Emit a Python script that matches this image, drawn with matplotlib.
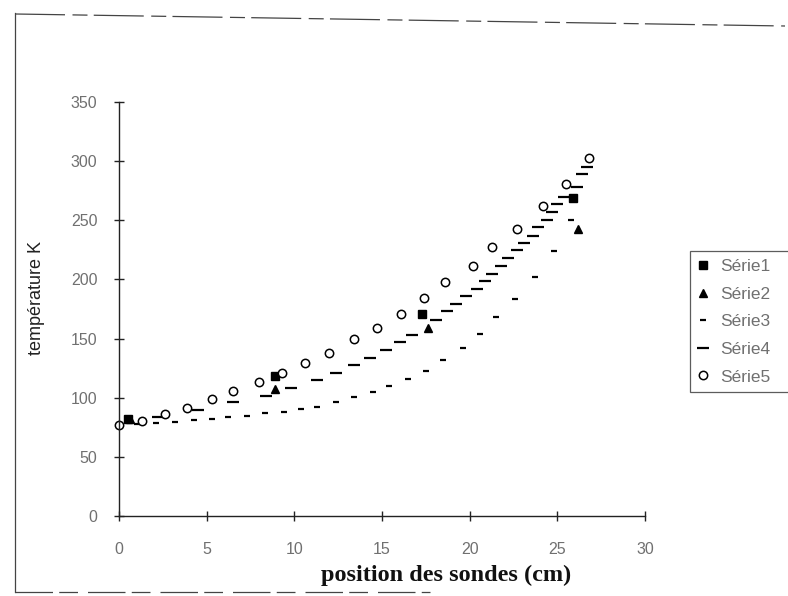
import matplotlib
matplotlib.use("Agg")
import matplotlib.pyplot as plt
from matplotlib.lines import Line2D

# Probe positions (cm) and temperatures (K) for each series
s1_x = [0.5, 8.9, 17.3, 25.9]
s1_y = [82, 118.6, 171, 269]

s2_x = [0.6, 8.9, 17.6, 26.2]
s2_y = [82, 107.6, 158.6, 243]

s3_x = [0.0, 1.05, 2.1, 3.2, 4.3, 5.3, 6.2, 7.3, 8.3, 9.4, 10.4, 11.3, 12.4,
        13.4, 14.5, 15.4, 16.5, 17.5, 18.5, 19.6, 20.6, 21.5, 22.6, 23.7,
        24.8, 25.8]
s3_y = [77, 77.5, 78.4, 79.6, 80.8, 82, 84, 84.3, 87, 88.3, 90.3, 92.3, 96,
        100.5, 105, 109.6, 115.8, 123, 131.7, 142, 153.5, 168, 183.7, 201.8,
        224, 250.6]

s4_x = [2.2, 4.5, 6.5, 8.4, 9.8, 11.3, 12.4, 13.4, 14.3, 15.2, 16.0, 16.7,
        18.1, 18.7, 19.2, 19.8, 20.4, 20.9, 21.3, 21.8, 22.2, 22.7, 23.1,
        23.6, 23.9, 24.4, 24.7, 25.0, 25.4, 26.1, 26.4, 26.7]
s4_y = [83.6, 89.4, 96, 101.6, 108, 115, 120.5, 127.6, 133.8, 140, 147, 153,
        166, 173, 179, 186, 192, 198.5, 205, 211, 218, 225, 230.4, 237, 244,
        250, 257, 264, 270, 278, 289, 295]

s5_x = [0.0, 1.3, 2.6, 3.9, 5.3, 6.5, 8.0, 9.3, 10.6, 12.0, 13.4, 14.7, 16.1,
        17.4, 18.6, 20.2, 21.3, 22.7, 24.2, 25.5, 26.8]
s5_y = [77, 80.7, 86, 91.7, 99, 106, 113, 120.5, 129, 138, 150, 159, 171,
        184, 198, 211, 227, 243, 262, 281, 303]

series_names = ["Série1", "Série2", "Série3", "Série4", "Série5"]
x_ticks = [0, 5, 10, 15, 20, 25, 30]
y_ticks = [0, 50, 100, 150, 200, 250, 300, 350]

W, H = 788, 596
fig = plt.figure(figsize=(W / 100, H / 100), dpi=100)
fig.patch.set_facecolor("white")

ax = fig.add_axes([119 / W, 1 - 516 / H, (645 - 119) / W, (516 - 102) / H])
ax.set_xlim(0, 30)
ax.set_ylim(0, 350)
for side in ("top", "right"):
    ax.spines[side].set_visible(False)
for side in ("left", "bottom"):
    ax.spines[side].set_color("#222222")
    ax.spines[side].set_linewidth(1.0)

tick_font = dict(family="Liberation Sans", size=11.5, color="#707070")
ax.set_xticks(x_ticks)
ax.set_yticks(y_ticks)
ax.set_xticklabels([str(v) for v in x_ticks], **tick_font)
ax.set_yticklabels([str(v) for v in y_ticks], **tick_font)
ax.tick_params(axis="x", direction="inout", length=7, width=1.0,
               color="#222222", pad=15)
ax.tick_params(axis="y", direction="inout", length=7, width=1.0,
               color="#222222", pad=12)

h1, = ax.plot(s1_x, s1_y, ls="none", marker="s", ms=5.5, color="black",
              clip_on=False)
h2, = ax.plot(s2_x, s2_y, ls="none", marker="^", ms=6, color="black",
              clip_on=False)
h3, = ax.plot(s3_x, s3_y, ls="none", marker="_", ms=5, mew=1.6,
              color="black", clip_on=False)
h4, = ax.plot(s4_x, s4_y, ls="none", marker="_", ms=8, mew=1.6,
              color="black", clip_on=False)
h5, = ax.plot(s5_x, s5_y, ls="none", marker="o", ms=6, mfc="white",
              mec="black", mew=1.1, clip_on=False)

ax.set_ylabel("température K", family="Liberation Sans", size=13,
              color="#222222")
ax.yaxis.set_label_coords(45 / W, 0.5, transform=fig.transFigure)

fig.text(446 / W, 1 - 575 / H, "position des sondes (cm)",
         family="Liberation Serif", weight="bold", size=17.5,
         color="#111111", ha="center", va="center")

# Legend box runs past the right edge of the chart area
leg = fig.legend([h1, h2, h3, h4, h5], series_names,
                 loc="upper left", mode="expand",
                 bbox_to_anchor=(690 / W, 1 - 251 / H, 130 / W, 0),
                 bbox_transform=fig.transFigure, frameon=True,
                 fancybox=False, handlelength=0.6, handletextpad=0.7,
                 labelspacing=0.72, borderpad=0.45, borderaxespad=0,
                 prop=dict(family="Liberation Sans", size=12.5))
leg.get_frame().set_edgecolor("#333333")
leg.get_frame().set_linewidth(0.9)
for t in leg.get_texts():
    t.set_color("#707070")

# Chart area border
border = dict(color="#444444", lw=0.9, transform=fig.transFigure)
fig.add_artist(Line2D([15 / W, 15 / W], [1 - 13 / H, 1 - 592 / H], **border))
fig.add_artist(Line2D([15 / W, 785 / W], [1 - 14 / H, 1 - 26 / H],
                      dashes=(40, 6, 12, 5), **border))
fig.add_artist(Line2D([15 / W, 430 / W], [1 - 592 / H, 1 - 592 / H],
                      dashes=(30, 5, 15, 8), **border))

fig.savefig("out.png", dpi=100)
